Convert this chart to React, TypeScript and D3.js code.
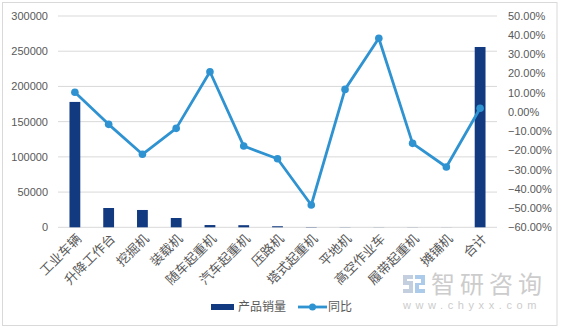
import React from "react";
import * as d3 from "d3";

const categories = ["工业车辆", "升降工作台", "挖掘机", "装载机", "随车起重机", "汽车起重机", "压路机", "塔式起重机", "平地机", "高空作业车", "履带起重机", "摊铺机", "合计"];
const sales = [178000, 27400, 24600, 13200, 3200, 3000, 1500, 400, 200, 150, 150, 100, 256000];
const yoy = [10.3, -6.4, -22.0, -8.5, 21.0, -17.7, -24.3, -48.4, 11.8, 38.4, -16.3, -28.6, 2.0];
const leftTicks = [0, 50000, 100000, 150000, 200000, 250000, 300000];
const rightTicks = [50, 40, 30, 20, 10, 0, -10, -20, -30, -40, -50, -60];

const W = 562, H = 331;
const plot = { left: 58, right: 497, top: 16, bottom: 227.3 };
const BAR = "#123a80";
const LINE = "#2f93d1";
const TXT = "#595959";
const FONT = "'Liberation Sans', 'Noto Sans CJK SC', sans-serif";
const CJK = "'Noto Sans CJK SC', sans-serif";

export default function App() {
  const x = d3.scaleBand().domain(categories).range([plot.left, plot.right]).paddingInner(0).paddingOuter(0);
  const yL = d3.scaleLinear().domain([0, 300000]).range([plot.bottom, plot.top]);
  const yR = d3.scaleLinear().domain([-60, 50]).range([plot.bottom, plot.top]);
  const bw = x.bandwidth() * 0.32;
  const cx = (c: string) => (x(c) as number) + x.bandwidth() / 2;
  const linePath = d3.line<number>().x((_, i) => cx(categories[i])).y((d) => yR(d))(yoy) as string;

  return (
    <svg width={W} height={H} style={{ position: "absolute", left: 0, top: 0, background: "#fff" }}>
      <rect x={2.5} y={2.5} width={554.5} height={323} fill="#fff" stroke="#d9d9d9" strokeWidth={1} />
      {leftTicks.map((t) => (
        <g key={t}>
          <line x1={plot.left} x2={plot.right} y1={yL(t)} y2={yL(t)} stroke="#d9d9d9" strokeWidth={1} />
          <text x={48} y={yL(t)} dy="0.35em" textAnchor="end" fontSize={11} fill={TXT} fontFamily={FONT}>{t}</text>
        </g>
      ))}
      {rightTicks.map((t) => (
        <text key={t} x={508} y={yR(t)} dy="0.35em" textAnchor="start" fontSize={11} fill={TXT} fontFamily={FONT}>
          {d3.format(".2f")(t) + "%"}
        </text>
      ))}
      {categories.map((c, i) => (
        <rect key={c} x={cx(c) - bw / 2} y={yL(sales[i])} width={bw} height={plot.bottom - yL(sales[i])} fill={BAR} />
      ))}
      <path d={linePath} fill="none" stroke={LINE} strokeWidth={2.8} strokeLinejoin="round" />
      {yoy.map((v, i) => (
        <circle key={i} cx={cx(categories[i])} cy={yR(v)} r={3.8} fill={LINE} />
      ))}
      {categories.map((c) => (
        <text key={c} transform={`translate(${cx(c) + 4},${plot.bottom + 9}) rotate(-45)`} dy="0.35em" textAnchor="end" fontSize={13} fill={TXT} fontFamily={CJK}>{c}</text>
      ))}
      {/* legend */}
      <rect x={211} y={304} width={23} height={6} fill={BAR} />
      <text x={238} y={307} dy="0.35em" fontSize={12} fill={TXT} fontFamily={CJK}>产品销量</text>
      <line x1={298} x2={327} y1={307} y2={307} stroke={LINE} strokeWidth={2.8} />
      <circle cx={312.5} cy={307} r={3.5} fill={LINE} />
      <text x={328} y={307} dy="0.35em" fontSize={12} fill={TXT} fontFamily={CJK}>同比</text>
      {/* watermark */}
      <g opacity={0.85}>
        <path d="M403,275 h10 v4 h-6 v2 h6 v12 h-10 v-4 h6 v-4 h-6 z" fill="#b9c6da" />
        <path d="M415,275 h10 v10 h-6 v4 h6 v4 h-10 v-10 h6 v-4 h-6 z" fill="#9ec3e8" />
        <text x={431} y={293} fontSize={24} fill="#c4c4c4" fontFamily={CJK} letterSpacing={5}>智研咨询</text>
        <text x={403} y={309} fontSize={11} fill="#c4c4c4" fontFamily={FONT} letterSpacing={4.6}>www.chyxx.com</text>
      </g>
    </svg>
  );
}
